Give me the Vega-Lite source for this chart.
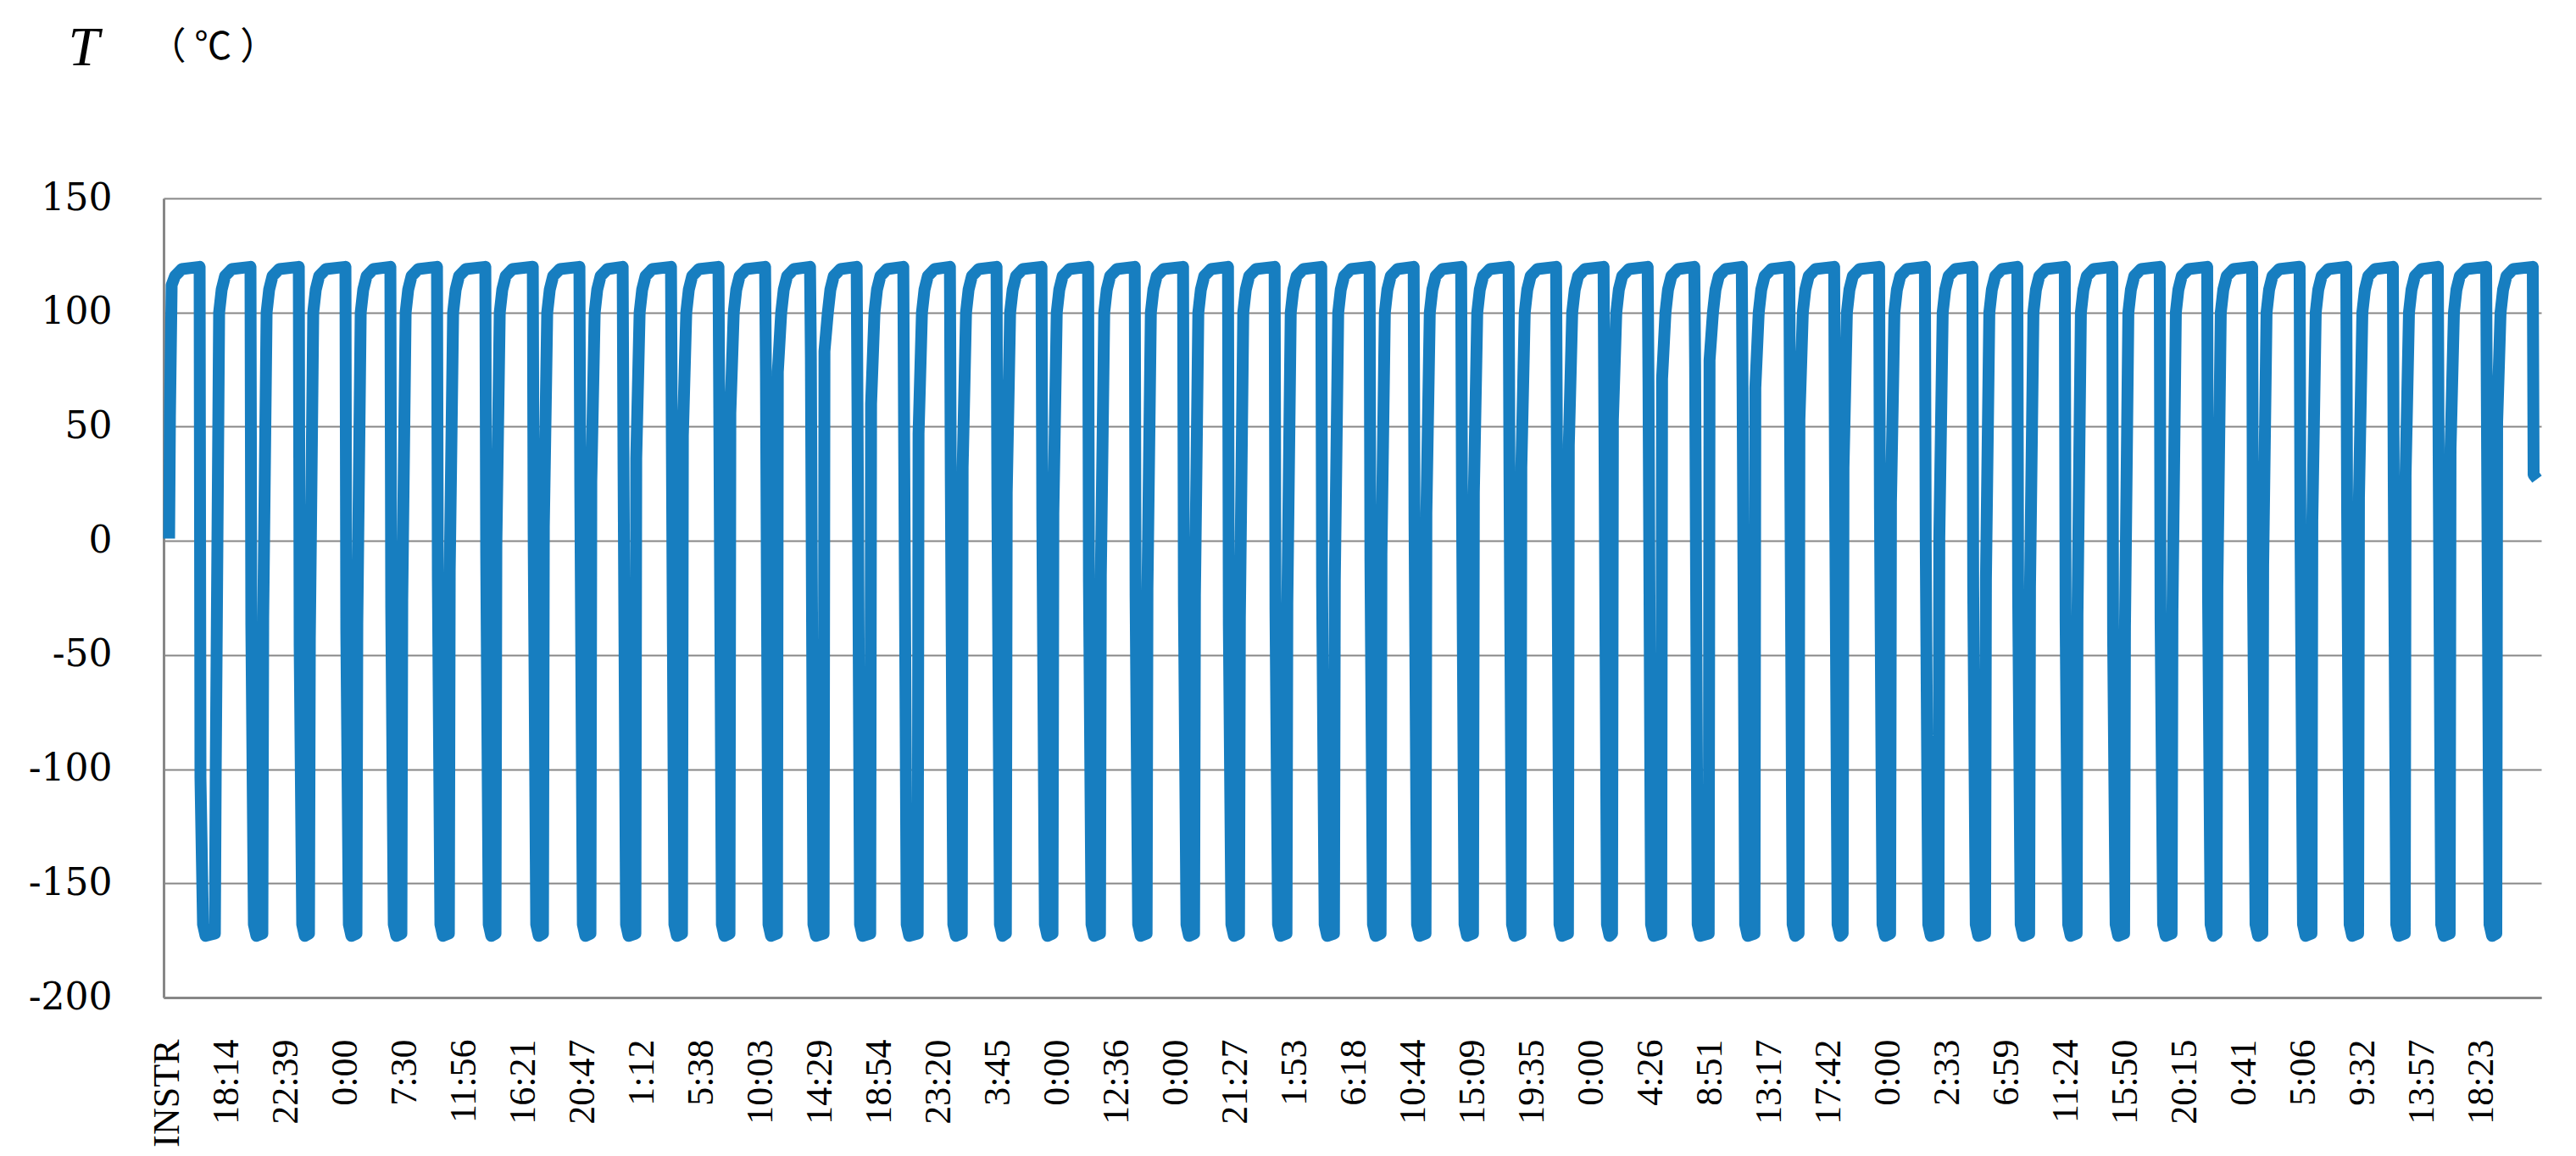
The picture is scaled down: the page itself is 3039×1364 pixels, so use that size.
{
"$schema":"https://vega.github.io/schema/vega-lite/v6.json",
"width":2805,"height":943,
"autosize":{"type":"none"},
"padding":{"left":193,"top":234,"right":41,"bottom":187},
"background":"white",
"config":{"view":{"stroke":null}},
"data":{"values":[
{"n":2,"T":1},{"n":3,"T":55},{"n":5,"T":112},{"n":9,"T":116},{"n":17,"T":119},
{"n":38,"T":120},{"n":39,"T":-104},{"n":42,"T":-168},{"n":45,"T":-173},{"n":56,"T":-172},{"n":57,"T":-101},{"n":61,"T":100},{"n":64,"T":110},{"n":68,"T":116},{"n":76,"T":119},
{"n":98,"T":120},{"n":99,"T":-37},{"n":102,"T":-168},{"n":105,"T":-173},{"n":112,"T":-172},{"n":113,"T":-34},{"n":117,"T":100},{"n":120,"T":110},{"n":124,"T":116},{"n":132,"T":119},
{"n":155,"T":120},{"n":156,"T":-46},{"n":159,"T":-168},{"n":162,"T":-173},{"n":167,"T":-172},{"n":168,"T":-43},{"n":172,"T":100},{"n":175,"T":110},{"n":179,"T":116},{"n":187,"T":119},
{"n":210,"T":120},{"n":211,"T":-39},{"n":214,"T":-168},{"n":217,"T":-173},{"n":223,"T":-172},{"n":224,"T":-36},{"n":228,"T":100},{"n":231,"T":110},{"n":235,"T":116},{"n":243,"T":119},
{"n":263,"T":120},{"n":264,"T":-29},{"n":267,"T":-168},{"n":270,"T":-173},{"n":276,"T":-172},{"n":277,"T":-26},{"n":281,"T":100},{"n":284,"T":110},{"n":288,"T":116},{"n":296,"T":119},
{"n":318,"T":120},{"n":319,"T":-16},{"n":322,"T":-168},{"n":325,"T":-173},{"n":332,"T":-172},{"n":333,"T":-13},{"n":337,"T":100},{"n":340,"T":110},{"n":344,"T":116},{"n":352,"T":119},
{"n":375,"T":120},{"n":376,"T":-5},{"n":379,"T":-168},{"n":382,"T":-173},{"n":387,"T":-172},{"n":388,"T":-2},{"n":392,"T":100},{"n":395,"T":110},{"n":399,"T":116},{"n":407,"T":119},
{"n":431,"T":120},{"n":432,"T":3},{"n":435,"T":-168},{"n":438,"T":-173},{"n":443,"T":-172},{"n":444,"T":6},{"n":448,"T":100},{"n":451,"T":110},{"n":455,"T":116},{"n":463,"T":119},
{"n":486,"T":120},{"n":487,"T":23},{"n":490,"T":-168},{"n":493,"T":-173},{"n":499,"T":-172},{"n":500,"T":26},{"n":504,"T":100},{"n":507,"T":110},{"n":511,"T":116},{"n":519,"T":119},
{"n":537,"T":120},{"n":538,"T":33},{"n":541,"T":-168},{"n":544,"T":-173},{"n":552,"T":-172},{"n":553,"T":36},{"n":557,"T":100},{"n":560,"T":110},{"n":564,"T":116},{"n":572,"T":119},
{"n":594,"T":120},{"n":595,"T":43},{"n":598,"T":-168},{"n":601,"T":-173},{"n":607,"T":-172},{"n":608,"T":46},{"n":612,"T":100},{"n":615,"T":110},{"n":619,"T":116},{"n":627,"T":119},
{"n":650,"T":120},{"n":651,"T":53},{"n":654,"T":-168},{"n":657,"T":-173},{"n":663,"T":-172},{"n":664,"T":56},{"n":668,"T":100},{"n":671,"T":110},{"n":675,"T":116},{"n":683,"T":119},
{"n":705,"T":120},{"n":706,"T":71},{"n":709,"T":-168},{"n":712,"T":-173},{"n":719,"T":-172},{"n":720,"T":74},{"n":724,"T":100},{"n":727,"T":110},{"n":731,"T":116},{"n":739,"T":119},
{"n":758,"T":120},{"n":759,"T":80},{"n":762,"T":-168},{"n":765,"T":-173},{"n":774,"T":-172},{"n":775,"T":83},{"n":779,"T":100},{"n":782,"T":110},{"n":786,"T":116},{"n":794,"T":119},
{"n":813,"T":120},{"n":814,"T":57},{"n":817,"T":-168},{"n":820,"T":-173},{"n":829,"T":-172},{"n":830,"T":60},{"n":834,"T":100},{"n":837,"T":110},{"n":841,"T":116},{"n":849,"T":119},
{"n":868,"T":120},{"n":869,"T":44},{"n":872,"T":-168},{"n":875,"T":-173},{"n":885,"T":-172},{"n":886,"T":47},{"n":890,"T":100},{"n":893,"T":110},{"n":897,"T":116},{"n":905,"T":119},
{"n":923,"T":120},{"n":924,"T":29},{"n":927,"T":-168},{"n":930,"T":-173},{"n":937,"T":-172},{"n":938,"T":32},{"n":942,"T":100},{"n":945,"T":110},{"n":949,"T":116},{"n":957,"T":119},
{"n":978,"T":120},{"n":979,"T":18},{"n":982,"T":-168},{"n":985,"T":-173},{"n":989,"T":-172},{"n":990,"T":21},{"n":994,"T":100},{"n":997,"T":110},{"n":1001,"T":116},{"n":1009,"T":119},
{"n":1031,"T":120},{"n":1032,"T":9},{"n":1035,"T":-168},{"n":1038,"T":-173},{"n":1044,"T":-172},{"n":1045,"T":12},{"n":1049,"T":100},{"n":1052,"T":110},{"n":1056,"T":116},{"n":1064,"T":119},
{"n":1086,"T":120},{"n":1087,"T":-18},{"n":1090,"T":-168},{"n":1093,"T":-173},{"n":1100,"T":-172},{"n":1101,"T":-15},{"n":1105,"T":100},{"n":1108,"T":110},{"n":1112,"T":116},{"n":1120,"T":119},
{"n":1141,"T":120},{"n":1142,"T":-24},{"n":1145,"T":-168},{"n":1148,"T":-173},{"n":1155,"T":-172},{"n":1156,"T":-21},{"n":1160,"T":100},{"n":1163,"T":110},{"n":1167,"T":116},{"n":1175,"T":119},
{"n":1198,"T":120},{"n":1199,"T":-27},{"n":1202,"T":-168},{"n":1205,"T":-173},{"n":1211,"T":-172},{"n":1212,"T":-24},{"n":1216,"T":100},{"n":1219,"T":110},{"n":1223,"T":116},{"n":1231,"T":119},
{"n":1251,"T":120},{"n":1252,"T":-37},{"n":1255,"T":-168},{"n":1258,"T":-173},{"n":1264,"T":-172},{"n":1265,"T":-34},{"n":1269,"T":100},{"n":1272,"T":110},{"n":1276,"T":116},{"n":1284,"T":119},
{"n":1306,"T":120},{"n":1307,"T":-30},{"n":1310,"T":-168},{"n":1313,"T":-173},{"n":1320,"T":-172},{"n":1321,"T":-27},{"n":1325,"T":100},{"n":1328,"T":110},{"n":1332,"T":116},{"n":1340,"T":119},
{"n":1361,"T":120},{"n":1362,"T":-20},{"n":1365,"T":-168},{"n":1368,"T":-173},{"n":1376,"T":-172},{"n":1377,"T":-17},{"n":1381,"T":100},{"n":1384,"T":110},{"n":1388,"T":116},{"n":1396,"T":119},
{"n":1418,"T":120},{"n":1419,"T":-9},{"n":1422,"T":-168},{"n":1425,"T":-173},{"n":1431,"T":-172},{"n":1432,"T":-6},{"n":1436,"T":100},{"n":1439,"T":110},{"n":1443,"T":116},{"n":1451,"T":119},
{"n":1470,"T":120},{"n":1471,"T":9},{"n":1474,"T":-168},{"n":1477,"T":-173},{"n":1484,"T":-172},{"n":1485,"T":12},{"n":1489,"T":100},{"n":1492,"T":110},{"n":1496,"T":116},{"n":1504,"T":119},
{"n":1526,"T":120},{"n":1527,"T":18},{"n":1530,"T":-168},{"n":1533,"T":-173},{"n":1540,"T":-172},{"n":1541,"T":21},{"n":1545,"T":100},{"n":1548,"T":110},{"n":1552,"T":116},{"n":1560,"T":119},
{"n":1582,"T":120},{"n":1583,"T":29},{"n":1586,"T":-168},{"n":1589,"T":-173},{"n":1596,"T":-172},{"n":1597,"T":32},{"n":1601,"T":100},{"n":1604,"T":110},{"n":1608,"T":116},{"n":1616,"T":119},
{"n":1638,"T":120},{"n":1639,"T":39},{"n":1642,"T":-168},{"n":1645,"T":-173},{"n":1652,"T":-172},{"n":1653,"T":42},{"n":1657,"T":100},{"n":1660,"T":110},{"n":1664,"T":116},{"n":1672,"T":119},
{"n":1694,"T":120},{"n":1695,"T":50},{"n":1698,"T":-168},{"n":1701,"T":-173},{"n":1704,"T":-172},{"n":1705,"T":53},{"n":1709,"T":100},{"n":1712,"T":110},{"n":1716,"T":116},{"n":1724,"T":119},
{"n":1746,"T":120},{"n":1747,"T":68},{"n":1750,"T":-168},{"n":1753,"T":-173},{"n":1762,"T":-172},{"n":1763,"T":71},{"n":1767,"T":100},{"n":1770,"T":110},{"n":1774,"T":116},{"n":1782,"T":119},
{"n":1801,"T":120},{"n":1802,"T":76},{"n":1805,"T":-168},{"n":1808,"T":-173},{"n":1818,"T":-172},{"n":1819,"T":79},{"n":1823,"T":100},{"n":1826,"T":110},{"n":1830,"T":116},{"n":1838,"T":119},
{"n":1857,"T":120},{"n":1858,"T":64},{"n":1861,"T":-168},{"n":1864,"T":-173},{"n":1872,"T":-172},{"n":1873,"T":67},{"n":1877,"T":100},{"n":1880,"T":110},{"n":1884,"T":116},{"n":1892,"T":119},
{"n":1913,"T":120},{"n":1914,"T":50},{"n":1917,"T":-168},{"n":1920,"T":-173},{"n":1924,"T":-172},{"n":1925,"T":53},{"n":1929,"T":100},{"n":1932,"T":110},{"n":1936,"T":116},{"n":1944,"T":119},
{"n":1966,"T":120},{"n":1967,"T":29},{"n":1970,"T":-168},{"n":1973,"T":-173},{"n":1976,"T":-172},{"n":1977,"T":32},{"n":1981,"T":100},{"n":1984,"T":110},{"n":1988,"T":116},{"n":1996,"T":119},
{"n":2019,"T":120},{"n":2020,"T":14},{"n":2023,"T":-168},{"n":2026,"T":-173},{"n":2032,"T":-172},{"n":2033,"T":17},{"n":2037,"T":100},{"n":2040,"T":110},{"n":2044,"T":116},{"n":2052,"T":119},
{"n":2073,"T":120},{"n":2074,"T":-2},{"n":2077,"T":-168},{"n":2080,"T":-173},{"n":2089,"T":-172},{"n":2090,"T":1},{"n":2094,"T":100},{"n":2097,"T":110},{"n":2101,"T":116},{"n":2109,"T":119},
{"n":2129,"T":120},{"n":2130,"T":-20},{"n":2133,"T":-168},{"n":2136,"T":-173},{"n":2144,"T":-172},{"n":2145,"T":-17},{"n":2149,"T":100},{"n":2152,"T":110},{"n":2156,"T":116},{"n":2164,"T":119},
{"n":2182,"T":120},{"n":2183,"T":-23},{"n":2186,"T":-168},{"n":2189,"T":-173},{"n":2196,"T":-172},{"n":2197,"T":-20},{"n":2201,"T":100},{"n":2204,"T":110},{"n":2208,"T":116},{"n":2216,"T":119},
{"n":2238,"T":120},{"n":2239,"T":-35},{"n":2242,"T":-168},{"n":2245,"T":-173},{"n":2252,"T":-172},{"n":2253,"T":-32},{"n":2257,"T":100},{"n":2260,"T":110},{"n":2264,"T":116},{"n":2272,"T":119},
{"n":2294,"T":120},{"n":2295,"T":-41},{"n":2298,"T":-168},{"n":2301,"T":-173},{"n":2308,"T":-172},{"n":2309,"T":-38},{"n":2313,"T":100},{"n":2316,"T":110},{"n":2320,"T":116},{"n":2328,"T":119},
{"n":2350,"T":120},{"n":2351,"T":-34},{"n":2354,"T":-168},{"n":2357,"T":-173},{"n":2364,"T":-172},{"n":2365,"T":-31},{"n":2369,"T":100},{"n":2372,"T":110},{"n":2376,"T":116},{"n":2384,"T":119},
{"n":2406,"T":120},{"n":2407,"T":-23},{"n":2410,"T":-168},{"n":2413,"T":-173},{"n":2417,"T":-172},{"n":2418,"T":-20},{"n":2422,"T":100},{"n":2425,"T":110},{"n":2429,"T":116},{"n":2437,"T":119},
{"n":2459,"T":120},{"n":2460,"T":-14},{"n":2463,"T":-168},{"n":2466,"T":-173},{"n":2471,"T":-172},{"n":2472,"T":-11},{"n":2476,"T":100},{"n":2479,"T":110},{"n":2483,"T":116},{"n":2491,"T":119},
{"n":2515,"T":120},{"n":2516,"T":6},{"n":2519,"T":-168},{"n":2522,"T":-173},{"n":2529,"T":-172},{"n":2530,"T":9},{"n":2534,"T":100},{"n":2537,"T":110},{"n":2541,"T":116},{"n":2549,"T":119},
{"n":2570,"T":120},{"n":2571,"T":16},{"n":2574,"T":-168},{"n":2577,"T":-173},{"n":2584,"T":-172},{"n":2585,"T":19},{"n":2589,"T":100},{"n":2592,"T":110},{"n":2596,"T":116},{"n":2604,"T":119},
{"n":2625,"T":120},{"n":2626,"T":26},{"n":2629,"T":-168},{"n":2632,"T":-173},{"n":2639,"T":-172},{"n":2640,"T":29},{"n":2644,"T":100},{"n":2647,"T":110},{"n":2651,"T":116},{"n":2659,"T":119},
{"n":2678,"T":120},{"n":2679,"T":37},{"n":2682,"T":-168},{"n":2685,"T":-173},{"n":2692,"T":-172},{"n":2693,"T":40},{"n":2697,"T":100},{"n":2700,"T":110},{"n":2704,"T":116},{"n":2712,"T":119},
{"n":2735,"T":120},{"n":2736,"T":49},{"n":2739,"T":-168},{"n":2742,"T":-173},{"n":2747,"T":-172},{"n":2748,"T":52},{"n":2752,"T":100},{"n":2755,"T":110},{"n":2759,"T":116},{"n":2767,"T":119},
{"n":2790,"T":120},{"n":2791,"T":29},{"n":2795,"T":27}
]},
"mark":{"type":"line","color":"#177EC0","strokeWidth":14,"strokeJoin":"round"},
"encoding":{
"x":{"field":"n","type":"quantitative","scale":{"domain":[-4.5,2800],"nice":false,"zero":false},
"axis":{"values":[0,70,140,210,280,350,420,490,560,630,700,770,840,910,980,1050,1120,1190,1260,1330,1400,1470,1540,1610,1680,1750,1820,1890,1960,2030,2100,2170,2240,2310,2380,2450,2520,2590,2660,2730],
"labelExpr":"['INSTR','18:14','22:39','0:00','7:30','11:56','16:21','20:47','1:12','5:38','10:03','14:29','18:54','23:20','3:45','0:00','12:36','0:00','21:27','1:53','6:18','10:44','15:09','19:35','0:00','4:26','8:51','13:17','17:42','0:00','2:33','6:59','11:24','15:50','20:15','0:41','5:06','9:32','13:57','18:23'][round(datum.value/70)]",
"labelAngle":-90,"labelFont":"Liberation Serif","labelFontSize":44,"labelColor":"black","labelPadding":49,"labelFlush":false,"labelOverlap":false,"labelBound":false,
"ticks":false,"grid":false,"domainColor":"#878787","domainWidth":3,
"title":"T","titleFont":"Liberation Serif","titleFontStyle":"italic","titleFontWeight":"normal","titleFontSize":66,"titleColor":"black","titleAngle":0,"titleAlign":"left","titleBaseline":"alphabetic","titleX":-113,"titleY":-1101}},
"y":{"field":"T","type":"quantitative","scale":{"domain":[-200,150],"nice":false},
"axis":{"values":[-200,-150,-100,-50,0,50,100,150],"labelExpr":"replace(datum.label,'−','-')","labelFont":"DejaVu Serif","labelFontSize":44,"labelColor":"black","labelPadding":61,
"ticks":false,"grid":true,"gridColor":"#878787","gridWidth":2,"domainColor":"#878787","domainWidth":3,
"title":"（ ℃ ）","titleFont":"Noto Sans CJK SC","titleFontSize":44,"titleFontWeight":"normal","titleColor":"black","titleAngle":0,"titleAlign":"left","titleBaseline":"middle","titleX":-18,"titleY":-178}}
}
}
